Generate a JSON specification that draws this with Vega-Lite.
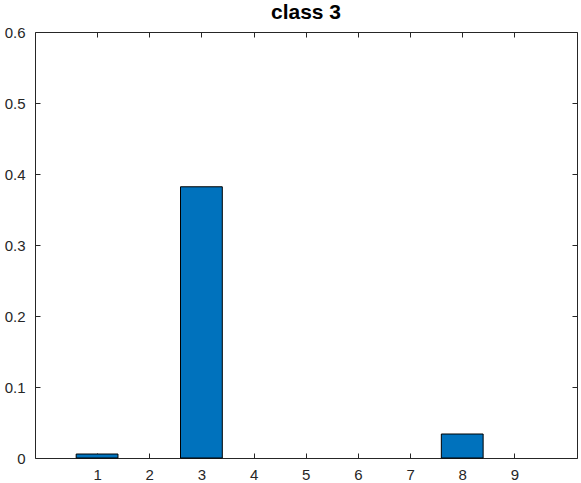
{
  "$schema": "https://vega.github.io/schema/vega-lite/v6.json",
  "width": 542,
  "height": 426,
  "autosize": {"type": "none"},
  "padding": {"left": 35, "top": 32, "right": 4, "bottom": 25},
  "background": "white",
  "title": {"text": "class 3", "font": "Liberation Sans", "fontSize": 21, "fontWeight": "bold", "color": "#000000", "anchor": "middle", "offset": 2},
  "config": {
    "view": {"stroke": "#262626", "strokeWidth": 1},
    "axis": {"domain": false, "grid": false, "labelFont": "Liberation Sans", "labelFontSize": 15, "labelColor": "#262626", "tickColor": "#262626", "tickSize": -5, "tickWidth": 1}
  },
  "data": {"values": [
    {"k": 1, "v": 0.0056},
    {"k": 2, "v": 0},
    {"k": 3, "v": 0.382},
    {"k": 4, "v": 0},
    {"k": 5, "v": 0},
    {"k": 6, "v": 0},
    {"k": 7, "v": 0},
    {"k": 8, "v": 0.0338},
    {"k": 9, "v": 0}
  ]},
  "layer": [
    {
      "mark": {"type": "bar", "size": 41.8, "fill": "#0072BD", "stroke": "#000000", "strokeWidth": 1},
      "transform": [{"filter": "datum.v > 0"}],
      "encoding": {
        "x": {"field": "k", "type": "quantitative", "scale": {"domain": [-0.19, 10.2], "nice": false, "zero": false, "padding": 0},
              "axis": {"values": [1,2,3,4,5,6,7,8,9], "title": null, "labelPadding": 14}},
        "y": {"field": "v", "type": "quantitative", "scale": {"domain": [0, 0.6], "nice": false, "padding": 0},
              "axis": {"values": [0,0.1,0.2,0.3,0.4,0.5,0.6], "format": "~g", "title": null, "labelPadding": 15}}
      }
    },
    {
      "mark": {"type": "point", "opacity": 0},
      "encoding": {
        "x": {"field": "k", "type": "quantitative", "scale": {"domain": [-0.19, 10.2], "nice": false, "zero": false, "padding": 0},
              "axis": {"orient": "top", "values": [1,2,3,4,5,6,7,8,9], "labels": false, "title": null}},
        "y": {"field": "v", "type": "quantitative", "scale": {"domain": [0, 0.6], "nice": false, "padding": 0},
              "axis": {"orient": "right", "values": [0,0.1,0.2,0.3,0.4,0.5,0.6], "labels": false, "title": null}}
      }
    }
  ],
  "resolve": {"axis": {"x": "independent", "y": "independent"}}
}
